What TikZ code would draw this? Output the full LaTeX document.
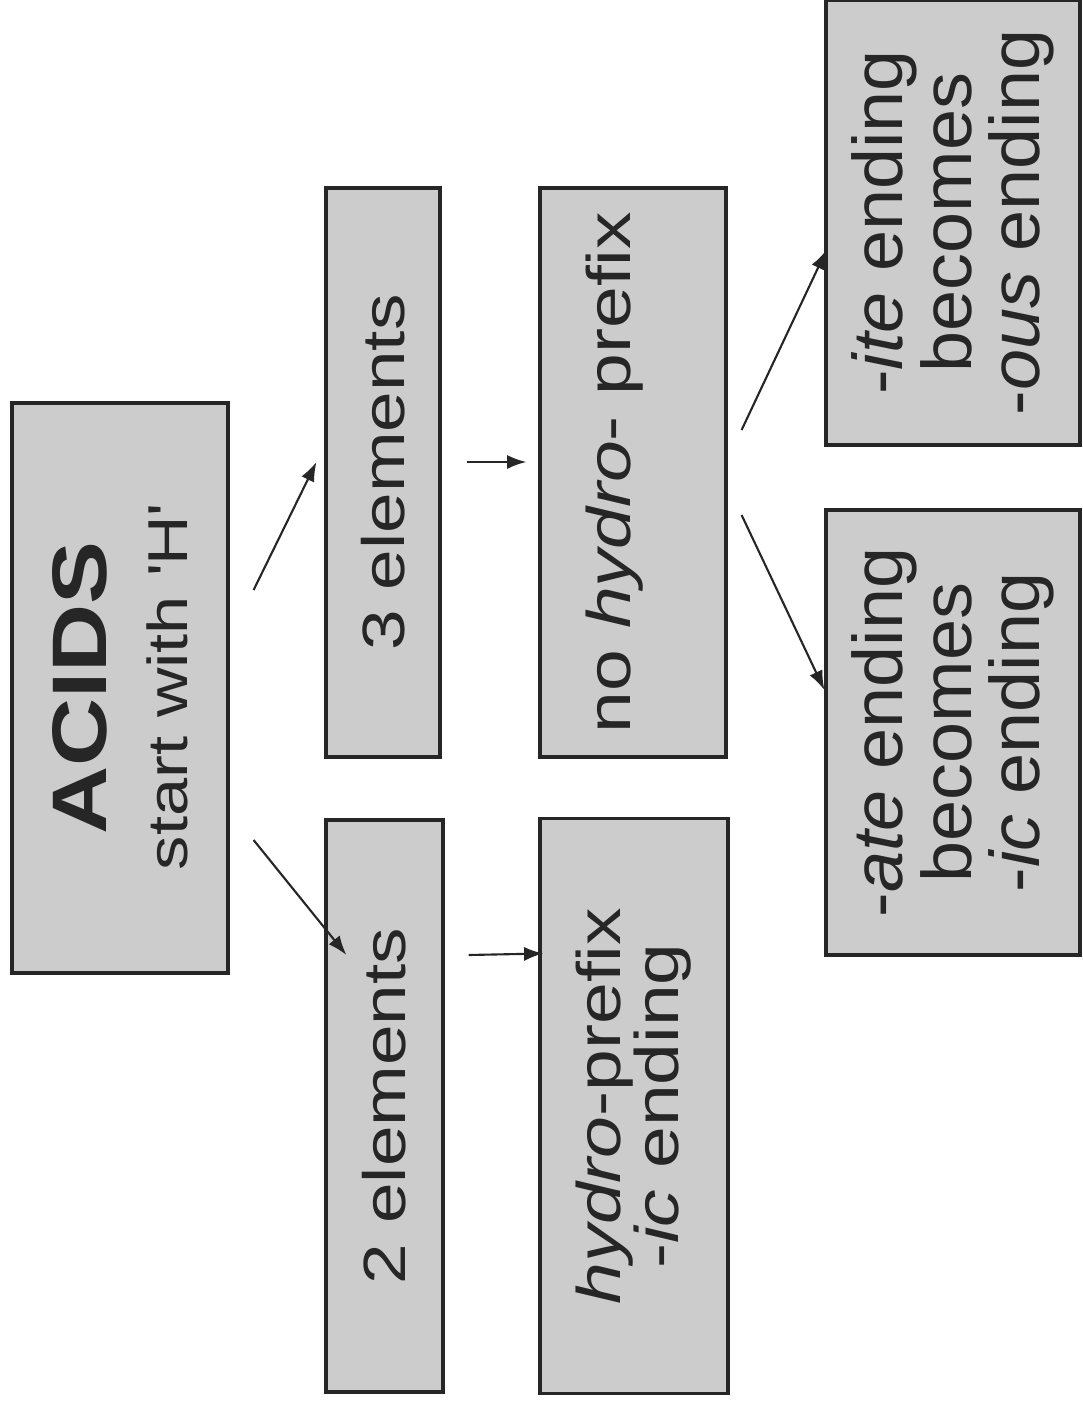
\documentclass[tikz,border=0pt]{standalone}
\usepackage{fontspec}
\setmainfont{Liberation Sans}[FakeStretch=1.22]
\newfontfamily\narrowsf{Liberation Sans}[FakeStretch=1.05]
\usetikzlibrary{positioning,calc,arrows.meta}

\definecolor{boxfill}{RGB}{204,204,204}
\definecolor{ink}{RGB}{38,38,38}

\tikzset{
  box/.style={draw=ink, line width=0.9pt, fill=boxfill, text=ink,
              inner sep=0pt, align=center},
  link/.style={draw=ink, line width=0.6pt},
}

\begin{document}
\begin{tikzpicture}[rotate=90,transform shape,on grid,
                    >={Latex[length=5.5pt,width=4pt]}]
   \useasboundingbox (-14.06,-10.82) rectangle (0,0);

   \node[box,minimum width=5.70cm,minimum height=2.16cm,
         font=\fontsize{16}{23}\selectfont] (acids) at (-6.88,-1.20)
         {{\fontsize{22}{22}\selectfont\bfseries ACIDS}\\
          start with \textquotesingle H\textquotesingle};
   \node[box,minimum width=5.69cm,minimum height=1.14cm,
         font=\fontsize{17}{17}\selectfont] (three)
         [below right=2.63cm and 2.155cm of acids] {3 elements};
   \node[box,minimum width=5.72cm,minimum height=1.17cm,
         font=\fontsize{17}{17}\selectfont] (two)
         [below left=2.645cm and 4.18cm of acids] {2 elements};
   \node[box,minimum width=5.69cm,minimum height=1.86cm,text depth=14pt,
         font=\fontsize{17.5}{17.5}\selectfont] (nohydro)
         [below=2.50cm of three] {no \textit{hydro}- prefix};
   \node[box,minimum width=5.75cm,minimum height=1.88cm,
         font=\fontsize{17.5}{16.5}\selectfont] (hydro)
         [below=2.495cm of two] {\textit{hydro}-prefix\\-\textit{ic} ending};
   \node[box,minimum width=4.45cm,minimum height=2.54cm,
         font=\narrowsf\fontsize{20}{19.5}\selectfont] (ate)
         [below left=3.20cm and 2.60cm of nohydro]
         {-\textit{ate} ending\\becomes\\-\textit{ic} ending};
   \node[box,minimum width=4.45cm,minimum height=2.54cm,
         font=\narrowsf\fontsize{20}{19.5}\selectfont] (ite)
         [below right=3.20cm and 2.50cm of nohydro]
         {-\textit{ite} ending\\becomes\\-\textit{ous} ending};

   \path[->] ($(acids.south)+(0.98,-0.24)$) edge[link] ($(three.north)+(0.105,0.08)$);
   \path[->] ($(acids.south)+(-1.52,-0.24)$) edge[link] ($(two.north)+(1.51,-0.22)$);

   \path[->] ($(three.south)+(0.105,-0.25)$) edge[link] ($(nohydro.north)+(0.105,0.12)$);
   \path[->] ($(two.south)+(1.51,-0.24)$) edge[link] ($(hydro.north)+(1.525,-0.05)$);

   \path[->] ($(nohydro.south)+(0.425,-0.14)$) edge[link] ($(ite.north)+(-0.275,-0.02)$);
   \path[->] ($(nohydro.south)+(-0.425,-0.14)$) edge[link] ($(ate.north)+(0.425,0)$);
\end{tikzpicture}
\end{document}
